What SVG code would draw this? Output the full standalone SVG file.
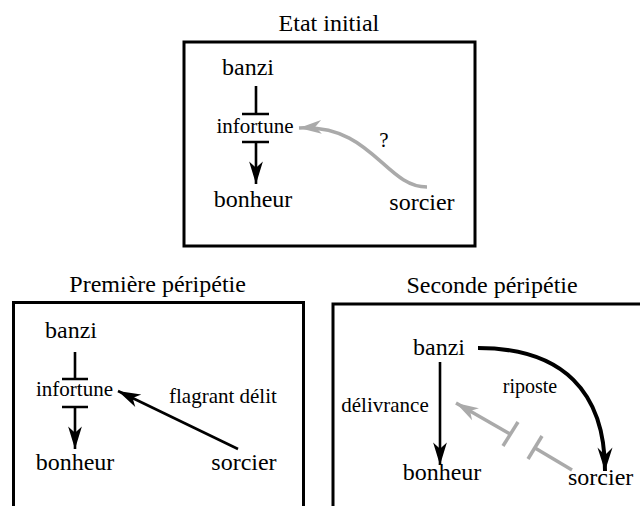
<svg xmlns="http://www.w3.org/2000/svg" width="640" height="506" viewBox="0 0 640 506">
<defs>
<marker id="ak" markerUnits="userSpaceOnUse" markerWidth="30" markerHeight="30" refX="0" refY="0" viewBox="-22 -10 24 20" orient="auto" overflow="visible">
<path d="M0,0 L-18,-5.5 L-13,0 L-18,5.5 Z" fill="#000"/>
</marker>
<marker id="akb" markerUnits="userSpaceOnUse" markerWidth="30" markerHeight="30" refX="0" refY="0" viewBox="-26 -10 28 20" orient="auto" overflow="visible">
<path d="M0,0 L-22,-7 L-15,0 L-22,7 Z" fill="#000"/>
</marker>
<marker id="ag" markerUnits="userSpaceOnUse" markerWidth="30" markerHeight="30" refX="0" refY="0" viewBox="-22 -10 24 20" orient="auto" overflow="visible">
<path d="M0,0 L-18,-5.5 L-13,0 L-18,5.5 Z" fill="#aaa"/>
</marker>
</defs>

<g id="panel-initial">
<text font-family="Liberation Serif" font-size="24" x="278.6" y="31">Etat initial</text>
<rect x="184" y="42" width="291" height="204" fill="none" stroke="#000" stroke-width="3"/>
</g>
<g id="panel-premiere">
<text font-family="Liberation Serif" font-size="24" x="69.3" y="292">Première péripétie</text>
<rect x="13.5" y="302.5" width="290" height="230" fill="none" stroke="#000" stroke-width="3"/>
</g>
<g id="panel-seconde">
<text font-family="Liberation Serif" font-size="24" x="406.4" y="293">Seconde péripétie</text>
<rect x="333" y="304" width="340" height="230" fill="none" stroke="#000" stroke-width="3"/>
</g>

<g id="n1-banzi"><text font-family="Liberation Serif" font-size="24" x="222" y="75">banzi</text></g>
<g id="n1-infortune"><text font-family="Liberation Serif" font-size="21" x="216.5" y="133">infortune</text></g>
<g id="n1-bonheur"><text font-family="Liberation Serif" font-size="24" x="213.7" y="207">bonheur</text></g>
<g id="n1-sorcier"><text font-family="Liberation Serif" font-size="24" x="389.3" y="210">sorcier</text></g>

<g id="n2-banzi"><text font-family="Liberation Serif" font-size="24" x="45" y="338">banzi</text></g>
<g id="n2-infortune"><text font-family="Liberation Serif" font-size="21" x="36" y="396">infortune</text></g>
<g id="n2-bonheur"><text font-family="Liberation Serif" font-size="24" x="35.7" y="470">bonheur</text></g>
<g id="n2-sorcier"><text font-family="Liberation Serif" font-size="24" x="211.3" y="470">sorcier</text></g>

<g id="n3-banzi"><text font-family="Liberation Serif" font-size="24" x="413" y="355">banzi</text></g>
<g id="n3-bonheur"><text font-family="Liberation Serif" font-size="24" x="402.7" y="480">bonheur</text></g>
<g id="n3-sorcier"><text font-family="Liberation Serif" font-size="24" x="568" y="485">sorcier</text></g>

<g id="connectors">
<g fill="none" stroke="#000" stroke-width="2.6">
<path d="M256,86 V114 M242,114 H269"/>
<path d="M242,142 H269 M256,142 V184" marker-end="url(#ak)"/>
<path d="M75,352 V379 M62,379 H88"/>
<path d="M62,407 H88 M75,407 V449" marker-end="url(#ak)"/>
<path d="M238,449 L118,391" marker-end="url(#ak)"/>
<path d="M440,362 V465" marker-end="url(#ak)"/>
<path d="M478,348 C563,348 605,392 605,471" stroke-width="4" marker-end="url(#akb)"/>
</g>
<g fill="none" stroke="#aaa" stroke-width="3.5">
<path d="M427,187 C385,187 372,124 299,128" marker-end="url(#ag)"/>
<path d="M510,434 L456,403" marker-end="url(#ag)"/>
<path d="M503,446 L518,422"/>
<path d="M572,470 L535,448"/>
<path d="M528,459 L542,436"/>
</g>
<text font-family="Liberation Serif" font-size="21" x="379.3" y="147">?</text>
<text font-family="Liberation Serif" font-size="21" x="169" y="403">flagrant délit</text>
<text font-family="Liberation Serif" font-size="21" x="341.3" y="412">délivrance</text>
<text font-family="Liberation Serif" font-size="20" x="502.8" y="393">riposte</text>
</g>
</svg>
